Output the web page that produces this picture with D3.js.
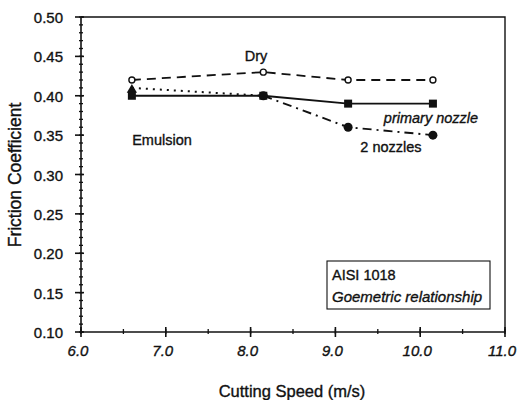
<!DOCTYPE html>
<html lang="en">
<head>
<meta charset="utf-8">
<script src="https://d3js.org/d3.v7.min.js"></script>
<style>
  body { margin: 0; background: #fff; }
  text { font-family: "Liberation Sans", Arial, sans-serif; fill: #111; stroke: #111; stroke-width: 0.35px; }
</style>
</head>
<body>
<div id="chart"></div>
<script>
// data
const speeds = [6.6, 8.15, 9.15, 10.15]
const dry = [0.42, 0.43, 0.42, 0.42]
const primaryNozzle = [0.40, 0.40, 0.39, 0.39]
const twoNozzles = [0.41, 0.40, 0.36, 0.35]
const xTicks = [6.0, 7.0, 8.0, 9.0, 10.0, 11.0]
const yTicks = [0.10, 0.15, 0.20, 0.25, 0.30, 0.35, 0.40, 0.45, 0.50]

const width = 517, height = 400
const margins = { top: 17, right: 12, bottom: 68, left: 81 }

const svg = d3.select("#chart").append("svg")
    .attr("width", width)
    .attr("height", height)

const x = d3.scaleLinear().domain([6, 11]).range([margins.left, width - margins.right])
const y = d3.scaleLinear().domain([0.10, 0.50]).range([height - margins.bottom, margins.top])

// frame: top and right lines
svg.append("path")
    .attr("d", `M${x(6)},${y(0.5)}H${x(11)}V${y(0.1)}`)
    .attr("fill", "none").attr("stroke", "#111").attr("stroke-width", 1.4)

// y axis
const yAxis = svg.append("g").attr("transform", `translate(${x(6)},0)`)
yAxis.append("line").attr("y1", y(0.1)).attr("y2", y(0.5)).attr("stroke", "#111").attr("stroke-width", 1.6)
yAxis.selectAll(".minor").data(d3.range(10, 51).map(d => d / 100))
    .enter().append("line")
    .attr("x1", -2).attr("x2", 2)
    .attr("y1", d => y(d)).attr("y2", d => y(d))
    .attr("stroke", "#111").attr("stroke-width", 1.3)
yAxis.selectAll(".major").data(yTicks)
    .enter().append("line")
    .attr("x1", -6).attr("x2", 3)
    .attr("y1", d => y(d)).attr("y2", d => y(d))
    .attr("stroke", "#111").attr("stroke-width", 1.6)
yAxis.selectAll(".lbl").data(yTicks)
    .enter().append("text")
    .attr("x", -18).attr("y", d => y(d) + 6)
    .attr("text-anchor", "end")
    .style("font-size", "15px")
    .text(d => d3.format(".2f")(d))

// x axis
const xAxis = svg.append("g").attr("transform", `translate(0,${y(0.1)})`)
xAxis.append("line").attr("x1", x(6)).attr("x2", x(11)).attr("stroke", "#111").attr("stroke-width", 1.4)
xAxis.selectAll(".minor").data(d3.range(6, 11.01, 0.5))
    .enter().append("line")
    .attr("x1", d => x(d)).attr("x2", d => x(d))
    .attr("y1", -3).attr("y2", 2)
    .attr("stroke", "#111").attr("stroke-width", 1.3)
xAxis.selectAll(".major").data(xTicks)
    .enter().append("line")
    .attr("x1", d => x(d)).attr("x2", d => x(d))
    .attr("y1", -5).attr("y2", 5)
    .attr("stroke", "#111").attr("stroke-width", 1.6)
xAxis.selectAll(".lbl").data(xTicks)
    .enter().append("text")
    .attr("x", d => x(d) - 3).attr("y", 24)
    .attr("text-anchor", "middle")
    .style("font-size", "15px").style("font-style", "italic")
    .text(d => d3.format(".1f")(d))

// axis titles
svg.append("text")
    .attr("x", 292).attr("y", 397)
    .attr("text-anchor", "middle")
    .style("font-size", "16.5px")
    .text("Cutting Speed (m/s)")
svg.append("text")
    .attr("transform", "translate(21,175) rotate(-90)")
    .attr("text-anchor", "middle")
    .style("font-size", "17.5px")
    .text("Friction Coefficient")

// series
const pts = vals => vals.map((v, i) => [x(speeds[i]), y(v)])
const line = d3.line()

// dry - dashed, open circles
svg.append("path").attr("d", line(pts(dry)))
    .attr("fill", "none").attr("stroke", "#111").attr("stroke-width", 1.8)
    .attr("stroke-dasharray", "9,6")

// 2 nozzles - dotted first leg, dash-dot after
const tn = pts(twoNozzles)
svg.append("path").attr("d", line(tn.slice(0, 2)))
    .attr("fill", "none").attr("stroke", "#111").attr("stroke-width", 2)
    .attr("stroke-dasharray", "2,5")
svg.append("path").attr("d", line(tn.slice(1)))
    .attr("fill", "none").attr("stroke", "#111").attr("stroke-width", 1.9)
    .attr("stroke-dasharray", "9,5,2,5")

// primary nozzle - solid
svg.append("path").attr("d", line(pts(primaryNozzle)))
    .attr("fill", "none").attr("stroke", "#111").attr("stroke-width", 1.9)

// markers
svg.selectAll(".dryM").data(pts(dry)).enter().append("circle")
    .attr("cx", d => d[0]).attr("cy", d => d[1]).attr("r", 3)
    .attr("fill", "#fff").attr("stroke", "#111").attr("stroke-width", 1.4)
svg.selectAll(".tnM").data(tn.slice(1)).enter().append("circle")
    .attr("cx", d => d[0]).attr("cy", d => d[1]).attr("r", 4.5)
    .attr("fill", "#111")
svg.append("path")
    .attr("d", d3.symbol(d3.symbolTriangle, 45)())
    .attr("transform", `translate(${tn[0][0]},${tn[0][1] + 2})`)
    .attr("fill", "#111")
svg.selectAll(".pnM").data(pts(primaryNozzle)).enter().append("rect")
    .attr("x", d => d[0] - 4).attr("y", d => d[1] - 4)
    .attr("width", 8).attr("height", 8)
    .attr("fill", "#111")

// series labels
const labels = [
    { t: "Dry", x: 256, y: 61, it: false },
    { t: "Emulsion", x: 162, y: 145, it: false },
    { t: "primary nozzle", x: 431, y: 123, it: true },
    { t: "2 nozzles", x: 391, y: 152, it: false }
]
svg.selectAll(".serLbl").data(labels).enter().append("text")
    .attr("x", d => d.x).attr("y", d => d.y)
    .attr("text-anchor", "middle")
    .style("font-size", "14.5px")
    .style("font-style", d => d.it ? "italic" : "normal")
    .text(d => d.t)

// note box
svg.append("rect")
    .attr("x", 327).attr("y", 261).attr("width", 163).attr("height", 48)
    .attr("fill", "#fff").attr("stroke", "#111").attr("stroke-width", 1.1)
svg.append("text").attr("x", 332).attr("y", 280)
    .style("font-size", "14.5px").text("AISI 1018")
svg.append("text").attr("x", 332).attr("y", 302)
    .style("font-size", "15px").style("font-style", "italic")
    .text("Goemetric relationship")
</script>
</body>
</html>
